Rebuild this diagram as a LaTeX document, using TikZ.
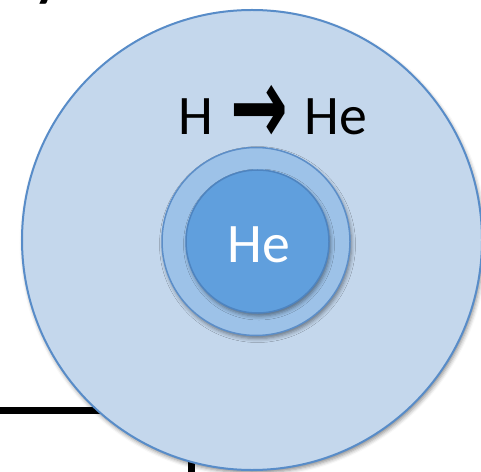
\documentclass[tikz,border=0pt]{standalone}
\usepackage{fontspec}
\usepackage{graphicx}
\setmainfont{Carlito}
\newfontfamily\arrowfont{DejaVu Sans}
\usetikzlibrary{shadows.blur}
\definecolor{envfill}{RGB}{196,215,236}
\definecolor{envline}{RGB}{88,140,200}
\definecolor{shellfill}{RGB}{157,194,232}
\definecolor{shellline}{RGB}{92,142,200}
\definecolor{corefill}{RGB}{96,159,221}
\definecolor{coreline}{RGB}{78,132,192}
\newcommand{\fusearrow}{\raisebox{-10bp}{\scalebox{0.63}[1.0]{\arrowfont\bfseries\fontsize{110}{110}\selectfont →}}}

\begin{document}
\begin{tikzpicture}[x=1bp, y=-1bp,
    ball/.style={circle, inner sep=0pt, blur shadow={shadow xshift=1.5bp,
        shadow yshift=-3bp, shadow blur radius=4bp, shadow opacity=45}},
    bigtext/.style={inner sep=0pt, font=\fontsize{56}{60}\selectfont}]
        \useasboundingbox (0,0) rectangle (481,472);

        % -- leftovers of the slide behind the star --
        \node[bigtext, anchor=base] (title) at (48,-4) {\bfseries y};
        \draw[line width=7bp] (0,410.5) -- (130,410.5);
        \draw[line width=7bp] (191.5,455) -- (191.5,480);

        % -- envelope, burning shell and core --
        \node[ball, draw=envline, line width=2bp, fill=envfill,
            minimum size=460bp] (envelope) at (252,240) {};
        \node[ball, draw=shellline, line width=1.5bp, fill=shellfill,
            minimum size=188bp] (shell) at (256,241.5) {};
        \node[ball, draw=coreline, line width=1.5bp, fill=corefill,
            minimum size=143bp] (core) at (257.5,241.5) {};

        % -- labels --
        \node[bigtext, anchor=base] (fusion) at (273,135)
            {H\hspace{0.3em}\fusearrow\hspace{0.3em}He};
        \node[bigtext, anchor=base, text=white] (corelabel) at (258.5,262) {He};
\end{tikzpicture}
\end{document}
